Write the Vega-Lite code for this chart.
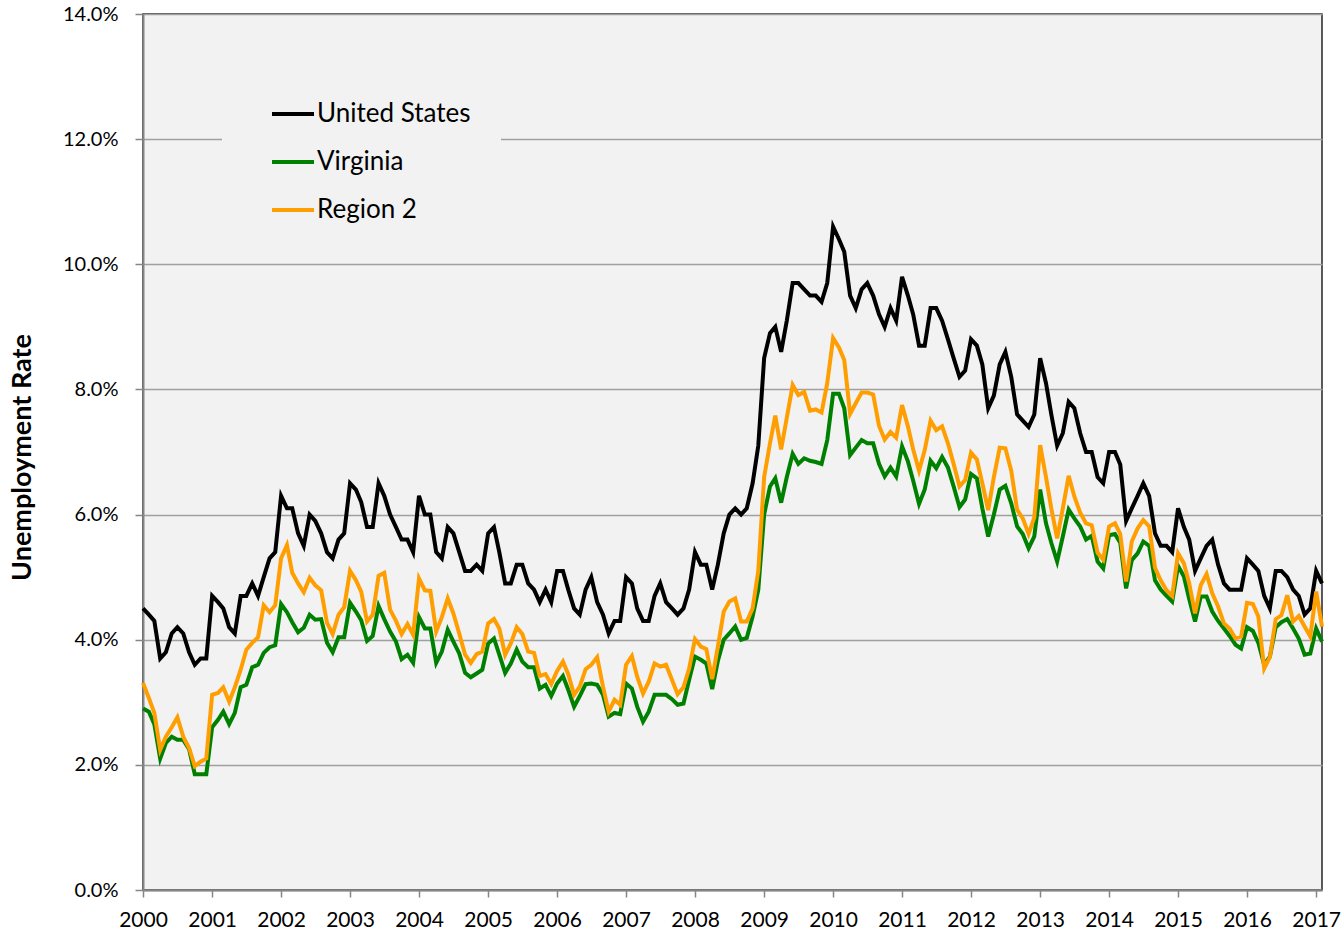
{
"$schema":"https://vega.github.io/schema/vega-lite/v6.json",
"autosize":{"type":"none"},
"width":1179,"height":876,
"padding":{"left":143,"top":14,"right":21,"bottom":46},
"background":"white",
"config":{"view":{"fill":"#f2f2f2","stroke":"#262626","strokeWidth":1.5},"font":"Lato"},
"data":{"values":[
{"d":"2000-01","us":4.5,"va":2.9,"r2":3.31},{"d":"2000-02","us":4.4,"va":2.85,"r2":3.07},{"d":"2000-03","us":4.3,"va":2.65,"r2":2.83},{"d":"2000-04","us":3.7,"va":2.1,"r2":2.24},{"d":"2000-05","us":3.8,"va":2.35,"r2":2.45},{"d":"2000-06","us":4.1,"va":2.45,"r2":2.6},{"d":"2000-07","us":4.2,"va":2.4,"r2":2.76},{"d":"2000-08","us":4.1,"va":2.4,"r2":2.45},{"d":"2000-09","us":3.8,"va":2.25,"r2":2.27},{"d":"2000-10","us":3.6,"va":1.85,"r2":1.98},{"d":"2000-11","us":3.7,"va":1.85,"r2":2.05},{"d":"2000-12","us":3.7,"va":1.85,"r2":2.1},
{"d":"2001-01","us":4.7,"va":2.6,"r2":3.12},{"d":"2001-02","us":4.6,"va":2.72,"r2":3.15},{"d":"2001-03","us":4.5,"va":2.85,"r2":3.24},{"d":"2001-04","us":4.2,"va":2.65,"r2":3.01},{"d":"2001-05","us":4.1,"va":2.83,"r2":3.24},{"d":"2001-06","us":4.7,"va":3.24,"r2":3.52},{"d":"2001-07","us":4.7,"va":3.28,"r2":3.84},{"d":"2001-08","us":4.9,"va":3.56,"r2":3.95},{"d":"2001-09","us":4.7,"va":3.6,"r2":4.04},{"d":"2001-10","us":5.0,"va":3.79,"r2":4.55},{"d":"2001-11","us":5.3,"va":3.88,"r2":4.44},{"d":"2001-12","us":5.4,"va":3.91,"r2":4.55},
{"d":"2002-01","us":6.3,"va":4.57,"r2":5.3},{"d":"2002-02","us":6.1,"va":4.44,"r2":5.51},{"d":"2002-03","us":6.1,"va":4.28,"r2":5.07},{"d":"2002-04","us":5.7,"va":4.12,"r2":4.9},{"d":"2002-05","us":5.5,"va":4.19,"r2":4.76},{"d":"2002-06","us":6.0,"va":4.4,"r2":4.99},{"d":"2002-07","us":5.9,"va":4.32,"r2":4.87},{"d":"2002-08","us":5.7,"va":4.33,"r2":4.79},{"d":"2002-09","us":5.4,"va":3.95,"r2":4.27},{"d":"2002-10","us":5.3,"va":3.8,"r2":4.09},{"d":"2002-11","us":5.6,"va":4.04,"r2":4.4},{"d":"2002-12","us":5.7,"va":4.04,"r2":4.52},
{"d":"2003-01","us":6.5,"va":4.59,"r2":5.1},{"d":"2003-02","us":6.4,"va":4.45,"r2":4.95},{"d":"2003-03","us":6.2,"va":4.31,"r2":4.77},{"d":"2003-04","us":5.8,"va":3.98,"r2":4.29},{"d":"2003-05","us":5.8,"va":4.06,"r2":4.4},{"d":"2003-06","us":6.5,"va":4.54,"r2":5.02},{"d":"2003-07","us":6.3,"va":4.33,"r2":5.07},{"d":"2003-08","us":6.0,"va":4.13,"r2":4.48},{"d":"2003-09","us":5.8,"va":3.97,"r2":4.3},{"d":"2003-10","us":5.6,"va":3.69,"r2":4.09},{"d":"2003-11","us":5.6,"va":3.76,"r2":4.25},{"d":"2003-12","us":5.4,"va":3.63,"r2":4.08},
{"d":"2004-01","us":6.3,"va":4.36,"r2":4.98},{"d":"2004-02","us":6.0,"va":4.18,"r2":4.79},{"d":"2004-03","us":6.0,"va":4.18,"r2":4.78},{"d":"2004-04","us":5.4,"va":3.63,"r2":4.13},{"d":"2004-05","us":5.3,"va":3.81,"r2":4.36},{"d":"2004-06","us":5.8,"va":4.16,"r2":4.66},{"d":"2004-07","us":5.7,"va":3.97,"r2":4.42},{"d":"2004-08","us":5.4,"va":3.78,"r2":4.1},{"d":"2004-09","us":5.1,"va":3.47,"r2":3.76},{"d":"2004-10","us":5.1,"va":3.4,"r2":3.63},{"d":"2004-11","us":5.2,"va":3.46,"r2":3.77},{"d":"2004-12","us":5.1,"va":3.52,"r2":3.81},
{"d":"2005-01","us":5.7,"va":3.94,"r2":4.26},{"d":"2005-02","us":5.8,"va":4.02,"r2":4.33},{"d":"2005-03","us":5.4,"va":3.76,"r2":4.18},{"d":"2005-04","us":4.9,"va":3.47,"r2":3.76},{"d":"2005-05","us":4.9,"va":3.62,"r2":3.94},{"d":"2005-06","us":5.2,"va":3.84,"r2":4.2},{"d":"2005-07","us":5.2,"va":3.65,"r2":4.09},{"d":"2005-08","us":4.9,"va":3.56,"r2":3.81},{"d":"2005-09","us":4.8,"va":3.56,"r2":3.79},{"d":"2005-10","us":4.6,"va":3.22,"r2":3.42},{"d":"2005-11","us":4.8,"va":3.28,"r2":3.45},{"d":"2005-12","us":4.6,"va":3.1,"r2":3.29},
{"d":"2006-01","us":5.1,"va":3.3,"r2":3.5},{"d":"2006-02","us":5.1,"va":3.42,"r2":3.65},{"d":"2006-03","us":4.8,"va":3.2,"r2":3.45},{"d":"2006-04","us":4.5,"va":2.93,"r2":3.12},{"d":"2006-05","us":4.4,"va":3.1,"r2":3.25},{"d":"2006-06","us":4.8,"va":3.29,"r2":3.53},{"d":"2006-07","us":5.0,"va":3.3,"r2":3.6},{"d":"2006-08","us":4.6,"va":3.28,"r2":3.72},{"d":"2006-09","us":4.4,"va":3.12,"r2":3.25},{"d":"2006-10","us":4.1,"va":2.77,"r2":2.85},{"d":"2006-11","us":4.3,"va":2.83,"r2":3.04},{"d":"2006-12","us":4.3,"va":2.81,"r2":2.96},
{"d":"2007-01","us":5.0,"va":3.3,"r2":3.6},{"d":"2007-02","us":4.9,"va":3.22,"r2":3.74},{"d":"2007-03","us":4.5,"va":2.93,"r2":3.41},{"d":"2007-04","us":4.3,"va":2.69,"r2":3.14},{"d":"2007-05","us":4.3,"va":2.85,"r2":3.33},{"d":"2007-06","us":4.7,"va":3.12,"r2":3.62},{"d":"2007-07","us":4.9,"va":3.12,"r2":3.57},{"d":"2007-08","us":4.6,"va":3.12,"r2":3.6},{"d":"2007-09","us":4.5,"va":3.05,"r2":3.36},{"d":"2007-10","us":4.4,"va":2.96,"r2":3.13},{"d":"2007-11","us":4.5,"va":2.98,"r2":3.24},{"d":"2007-12","us":4.8,"va":3.36,"r2":3.54},
{"d":"2008-01","us":5.4,"va":3.73,"r2":4.01},{"d":"2008-02","us":5.2,"va":3.68,"r2":3.89},{"d":"2008-03","us":5.2,"va":3.62,"r2":3.85},{"d":"2008-04","us":4.8,"va":3.21,"r2":3.37},{"d":"2008-05","us":5.2,"va":3.66,"r2":3.89},{"d":"2008-06","us":5.7,"va":4.0,"r2":4.45},{"d":"2008-07","us":6.0,"va":4.1,"r2":4.61},{"d":"2008-08","us":6.1,"va":4.21,"r2":4.66},{"d":"2008-09","us":6.0,"va":4.0,"r2":4.29},{"d":"2008-10","us":6.1,"va":4.03,"r2":4.29},{"d":"2008-11","us":6.5,"va":4.37,"r2":4.5},{"d":"2008-12","us":7.1,"va":4.8,"r2":5.1},
{"d":"2009-01","us":8.5,"va":6.0,"r2":6.6},{"d":"2009-02","us":8.9,"va":6.45,"r2":7.14},{"d":"2009-03","us":9.0,"va":6.58,"r2":7.58},{"d":"2009-04","us":8.6,"va":6.19,"r2":7.04},{"d":"2009-05","us":9.1,"va":6.6,"r2":7.55},{"d":"2009-06","us":9.7,"va":6.97,"r2":8.07},{"d":"2009-07","us":9.7,"va":6.81,"r2":7.91},{"d":"2009-08","us":9.6,"va":6.9,"r2":7.96},{"d":"2009-09","us":9.5,"va":6.86,"r2":7.66},{"d":"2009-10","us":9.5,"va":6.84,"r2":7.68},{"d":"2009-11","us":9.4,"va":6.81,"r2":7.63},{"d":"2009-12","us":9.7,"va":7.19,"r2":8.1},
{"d":"2010-01","us":10.6,"va":7.93,"r2":8.82},{"d":"2010-02","us":10.4,"va":7.93,"r2":8.67},{"d":"2010-03","us":10.2,"va":7.7,"r2":8.47},{"d":"2010-04","us":9.5,"va":6.95,"r2":7.61},{"d":"2010-05","us":9.3,"va":7.07,"r2":7.78},{"d":"2010-06","us":9.6,"va":7.19,"r2":7.95},{"d":"2010-07","us":9.7,"va":7.14,"r2":7.95},{"d":"2010-08","us":9.5,"va":7.14,"r2":7.92},{"d":"2010-09","us":9.2,"va":6.81,"r2":7.42},{"d":"2010-10","us":9.0,"va":6.61,"r2":7.2},{"d":"2010-11","us":9.3,"va":6.75,"r2":7.32},{"d":"2010-12","us":9.1,"va":6.61,"r2":7.23},
{"d":"2011-01","us":9.8,"va":7.09,"r2":7.75},{"d":"2011-02","us":9.5,"va":6.85,"r2":7.41},{"d":"2011-03","us":9.2,"va":6.54,"r2":7.04},{"d":"2011-04","us":8.7,"va":6.17,"r2":6.7},{"d":"2011-05","us":8.7,"va":6.4,"r2":7.03},{"d":"2011-06","us":9.3,"va":6.86,"r2":7.5},{"d":"2011-07","us":9.3,"va":6.74,"r2":7.35},{"d":"2011-08","us":9.1,"va":6.92,"r2":7.41},{"d":"2011-09","us":8.8,"va":6.75,"r2":7.14},{"d":"2011-10","us":8.5,"va":6.45,"r2":6.81},{"d":"2011-11","us":8.2,"va":6.12,"r2":6.45},{"d":"2011-12","us":8.3,"va":6.24,"r2":6.55},
{"d":"2012-01","us":8.8,"va":6.65,"r2":6.99},{"d":"2012-02","us":8.7,"va":6.58,"r2":6.88},{"d":"2012-03","us":8.4,"va":6.1,"r2":6.5},{"d":"2012-04","us":7.7,"va":5.65,"r2":6.07},{"d":"2012-05","us":7.9,"va":6.0,"r2":6.6},{"d":"2012-06","us":8.4,"va":6.4,"r2":7.07},{"d":"2012-07","us":8.6,"va":6.46,"r2":7.06},{"d":"2012-08","us":8.2,"va":6.18,"r2":6.7},{"d":"2012-09","us":7.6,"va":5.81,"r2":6.08},{"d":"2012-10","us":7.5,"va":5.69,"r2":5.94},{"d":"2012-11","us":7.4,"va":5.46,"r2":5.69},{"d":"2012-12","us":7.6,"va":5.65,"r2":5.95},
{"d":"2013-01","us":8.5,"va":6.4,"r2":7.11},{"d":"2013-02","us":8.1,"va":5.86,"r2":6.6},{"d":"2013-03","us":7.6,"va":5.55,"r2":6.1},{"d":"2013-04","us":7.1,"va":5.25,"r2":5.62},{"d":"2013-05","us":7.3,"va":5.65,"r2":6.1},{"d":"2013-06","us":7.8,"va":6.08,"r2":6.62},{"d":"2013-07","us":7.7,"va":5.94,"r2":6.29},{"d":"2013-08","us":7.3,"va":5.81,"r2":6.03},{"d":"2013-09","us":7.0,"va":5.6,"r2":5.86},{"d":"2013-10","us":7.0,"va":5.66,"r2":5.83},{"d":"2013-11","us":6.6,"va":5.25,"r2":5.39},{"d":"2013-12","us":6.5,"va":5.14,"r2":5.28},
{"d":"2014-01","us":7.0,"va":5.67,"r2":5.81},{"d":"2014-02","us":7.0,"va":5.69,"r2":5.86},{"d":"2014-03","us":6.8,"va":5.55,"r2":5.69},{"d":"2014-04","us":5.9,"va":4.82,"r2":4.93},{"d":"2014-05","us":6.1,"va":5.27,"r2":5.57},{"d":"2014-06","us":6.3,"va":5.38,"r2":5.78},{"d":"2014-07","us":6.5,"va":5.57,"r2":5.91},{"d":"2014-08","us":6.3,"va":5.5,"r2":5.81},{"d":"2014-09","us":5.7,"va":4.95,"r2":5.15},{"d":"2014-10","us":5.5,"va":4.8,"r2":4.95},{"d":"2014-11","us":5.5,"va":4.7,"r2":4.79},{"d":"2014-12","us":5.4,"va":4.61,"r2":4.7},
{"d":"2015-01","us":6.1,"va":5.18,"r2":5.38},{"d":"2015-02","us":5.8,"va":5.01,"r2":5.22},{"d":"2015-03","us":5.6,"va":4.65,"r2":4.9},{"d":"2015-04","us":5.1,"va":4.29,"r2":4.42},{"d":"2015-05","us":5.3,"va":4.69,"r2":4.87},{"d":"2015-06","us":5.5,"va":4.69,"r2":5.05},{"d":"2015-07","us":5.6,"va":4.45,"r2":4.74},{"d":"2015-08","us":5.2,"va":4.3,"r2":4.53},{"d":"2015-09","us":4.9,"va":4.18,"r2":4.26},{"d":"2015-10","us":4.8,"va":4.06,"r2":4.18},{"d":"2015-11","us":4.8,"va":3.92,"r2":4.02},{"d":"2015-12","us":4.8,"va":3.86,"r2":4.05},
{"d":"2016-01","us":5.3,"va":4.2,"r2":4.59},{"d":"2016-02","us":5.2,"va":4.14,"r2":4.57},{"d":"2016-03","us":5.1,"va":3.95,"r2":4.37},{"d":"2016-04","us":4.7,"va":3.6,"r2":3.54},{"d":"2016-05","us":4.5,"va":3.73,"r2":3.72},{"d":"2016-06","us":5.1,"va":4.2,"r2":4.33},{"d":"2016-07","us":5.1,"va":4.28,"r2":4.39},{"d":"2016-08","us":5.0,"va":4.33,"r2":4.71},{"d":"2016-09","us":4.8,"va":4.18,"r2":4.29},{"d":"2016-10","us":4.7,"va":4.02,"r2":4.38},{"d":"2016-11","us":4.4,"va":3.76,"r2":4.21},{"d":"2016-12","us":4.5,"va":3.78,"r2":4.05},
{"d":"2017-01","us":5.1,"va":4.18,"r2":4.77},{"d":"2017-02","us":4.9,"va":3.97,"r2":4.21}
]},
"transform":[{"fold":["us","va","r2"],"as":["series","rate"]}],
"mark":{"type":"line","strokeWidth":4},
"encoding":{
"x":{"field":"d","type":"temporal",
"scale":{"type":"utc","domain":[{"year":2000,"month":1,"date":1,"utc":true},{"year":2017,"month":2,"date":1,"utc":true}],"nice":false},
"axis":{"title":null,"format":"%Y","tickCount":{"interval":"year","step":1},"labelFlush":false,"labelOverlap":false,"grid":false,"domainColor":"#868686","domainWidth":2,"tickColor":"#868686","tickWidth":1.5,"tickSize":7,"labelFont":"Lato","labelFontSize":21,"labelColor":"#000000","labelPadding":12}},
"y":{"field":"rate","type":"quantitative","scale":{"domain":[0,14],"nice":false},
"axis":{"title":"Unemployment Rate","values":[0,2,4,6,8,10,12,14],"labelExpr":"format(datum.value,'.1f')+'%'","grid":true,"gridColor":"#a0a0a0","gridWidth":1.3,"domainColor":"#868686","domainWidth":2,"tickColor":"#868686","tickWidth":1.5,"tickSize":8,"labelPadding":17,"labelFont":"Lato","labelFontSize":20,"labelColor":"#000000","titleFont":"Lato","titleFontSize":27,"titleFontWeight":"bold","titleColor":"#000000","titleX":-113,"titleY":443,"titleAngle":-90,"titleAlign":"center","titleBaseline":"alphabetic"}},
"color":{"field":"series","type":"nominal","sort":["us","va","r2"],
"scale":{"domain":["us","va","r2"],"range":["#000000","#008000","#ff9e00"]},
"legend":{"title":null,"orient":"none","legendX":79,"legendY":47,"symbolType":"stroke","symbolSize":1764,"symbolStrokeWidth":4,"labelExpr":"datum.label=='us'?'United States':datum.label=='va'?'Virginia':'Region 2'","labelFont":"Lato","labelFontSize":26,"labelColor":"#000000","labelOffset":1,"labelLimit":400,"rowPadding":12,"fillColor":"#f2f2f2","padding":30,"symbolOffset":18}}
}
}
